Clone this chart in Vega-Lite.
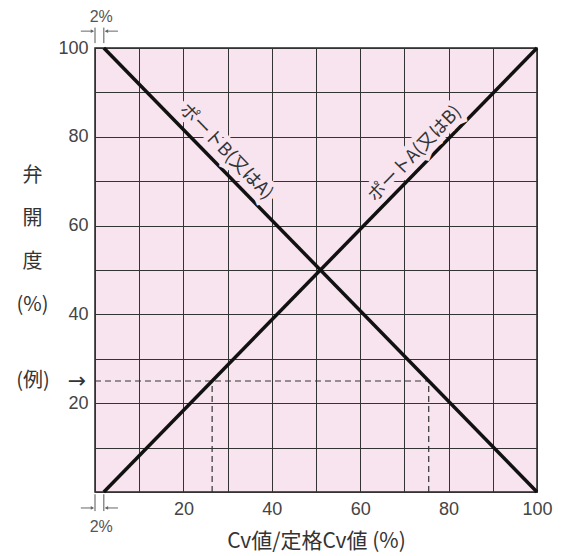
{
  "$schema": "https://vega.github.io/schema/vega-lite/v6.json",
  "width": 442,
  "height": 444,
  "autosize": {"type": "none"},
  "padding": {"left": 95, "top": 48, "right": 26, "bottom": 64},
  "background": "white",
  "config": {
    "view": {"fill": "#f8e4ee", "stroke": "#222222", "strokeWidth": 1.5},
    "font": "Noto Sans CJK JP"
  },
  "datasets": {
    "lines": [
      {"port": "A", "x": 2, "y": 0},
      {"port": "A", "x": 100, "y": 100},
      {"port": "B", "x": 2, "y": 100},
      {"port": "B", "x": 100, "y": 0}
    ],
    "dashed": [
      {"x": 0, "y": 25, "x2": 75.5, "y2": 25},
      {"x": 26.5, "y": 0, "x2": 26.5, "y2": 25},
      {"x": 75.5, "y": 0, "x2": 75.5, "y2": 25}
    ],
    "labelB": [{"label": "ポートB(又はA)", "x": 29.6, "y": 76.6}],
    "labelA": [{"label": "ポートA(又はB)", "x": 72.4, "y": 76.1}],
    "pct": [
      {"label": "2%", "x": 1.4, "y": 107.0},
      {"label": "2%", "x": 1.4, "y": -7.8}
    ],
    "arrowShaftR": [
      {"x": -3.2, "x2": -0.4, "y": 103.8, "y2": 103.8},
      {"x": -3.2, "x2": -0.4, "y": -3.6, "y2": -3.6}
    ],
    "arrowShaftL": [
      {"x": 2.4, "x2": 5.2, "y": 103.8, "y2": 103.8},
      {"x": 2.4, "x2": 5.2, "y": -3.6, "y2": -3.6}
    ],
    "arrowHeadR": [
      {"x": -0.6, "y": 103.8},
      {"x": -0.6, "y": -3.6}
    ],
    "arrowHeadL": [
      {"x": 2.6, "y": 103.8},
      {"x": 2.6, "y": -3.6}
    ],
    "ticks": [
      {"x": 0, "y": 101.1, "y2": 104.6},
      {"x": 2, "y": 101.1, "y2": 104.6},
      {"x": 0, "y": -0.5, "y2": -4.3},
      {"x": 2, "y": -0.5, "y2": -4.3}
    ],
    "rei": [{"label": "(例)", "x": -14, "y": 25}],
    "reiArrow": [{"label": "→", "x": -2, "y": 25}]
  },
  "encoding": {
    "x": {
      "field": "x",
      "type": "quantitative",
      "scale": {"domain": [0, 100], "nice": false, "zero": false},
      "axis": {
        "values": [0, 10, 20, 30, 40, 50, 60, 70, 80, 90, 100],
        "labelExpr": "datum.value % 20 == 0 && datum.value > 0 ? datum.label : ''",
        "grid": true,
        "gridColor": "#333333",
        "gridWidth": 1,
        "domain": false,
        "ticks": false,
        "labelFont": "Liberation Sans",
        "labelFontSize": 18,
        "labelColor": "#444444",
        "labelPadding": 8,
        "labelFlush": false,
        "title": "Cv値/定格Cv値 (%)",
        "titleFont": "Noto Sans CJK JP",
        "titleFontSize": 21,
        "titleFontWeight": "normal",
        "titleColor": "#333333",
        "titleBaseline": "middle",
        "titleY": 49
      }
    },
    "y": {
      "field": "y",
      "type": "quantitative",
      "scale": {"domain": [0, 100], "nice": false, "zero": false},
      "axis": {
        "values": [0, 10, 20, 30, 40, 50, 60, 70, 80, 90, 100],
        "labelExpr": "datum.value % 20 == 0 && datum.value > 0 ? datum.label : ''",
        "grid": true,
        "gridColor": "#333333",
        "gridWidth": 1,
        "domain": false,
        "ticks": false,
        "labelFont": "Liberation Sans",
        "labelFontSize": 18,
        "labelColor": "#444444",
        "labelPadding": 7,
        "labelFlush": false,
        "title": ["弁", "開", "度", "(%)"],
        "titleFont": "Noto Sans CJK JP",
        "titleFontSize": 20,
        "titleFontWeight": "normal",
        "titleColor": "#333333",
        "titleAngle": 0,
        "titleAlign": "center",
        "titleBaseline": "top",
        "titleX": -63,
        "titleY": 117,
        "titleLineHeight": 43
      }
    }
  },
  "layer": [
    {
      "data": {"name": "dashed"},
      "mark": {"type": "rule", "color": "#333333", "strokeWidth": 1.2, "strokeDash": [6, 4]},
      "encoding": {"x2": {"field": "x2"}, "y2": {"field": "y2"}}
    },
    {
      "data": {"name": "lines"},
      "mark": {"type": "line", "color": "#111111", "strokeWidth": 3.5},
      "encoding": {"detail": {"field": "port"}}
    },
    {
      "data": {"name": "labelB"},
      "mark": {"type": "text", "angle": 46, "fontSize": 18, "stroke": "#f8e4ee", "strokeWidth": 10, "fill": "#f8e4ee", "align": "center", "baseline": "middle"},
      "encoding": {"text": {"field": "label"}}
    },
    {
      "data": {"name": "labelB"},
      "mark": {"type": "text", "angle": 46, "fontSize": 18, "color": "#333333", "align": "center", "baseline": "middle"},
      "encoding": {"text": {"field": "label"}}
    },
    {
      "data": {"name": "labelA"},
      "mark": {"type": "text", "angle": -46, "fontSize": 18, "stroke": "#f8e4ee", "strokeWidth": 10, "fill": "#f8e4ee", "align": "center", "baseline": "middle"},
      "encoding": {"text": {"field": "label"}}
    },
    {
      "data": {"name": "labelA"},
      "mark": {"type": "text", "angle": -46, "fontSize": 18, "color": "#333333", "align": "center", "baseline": "middle"},
      "encoding": {"text": {"field": "label"}}
    },
    {
      "data": {"name": "pct"},
      "mark": {"type": "text", "font": "Liberation Sans", "fontSize": 16, "color": "#555555", "align": "center", "baseline": "middle"},
      "encoding": {"text": {"field": "label"}}
    },
    {
      "data": {"name": "arrowShaftR"},
      "mark": {"type": "rule", "color": "#666666", "strokeWidth": 1},
      "encoding": {"x2": {"field": "x2"}, "y2": {"field": "y2"}}
    },
    {
      "data": {"name": "arrowShaftL"},
      "mark": {"type": "rule", "color": "#666666", "strokeWidth": 1},
      "encoding": {"x2": {"field": "x2"}, "y2": {"field": "y2"}}
    },
    {
      "data": {"name": "arrowHeadR"},
      "mark": {"type": "point", "shape": "triangle-right", "filled": true, "color": "#666666", "size": 14, "opacity": 1},
      "encoding": {}
    },
    {
      "data": {"name": "arrowHeadL"},
      "mark": {"type": "point", "shape": "triangle-left", "filled": true, "color": "#666666", "size": 14, "opacity": 1},
      "encoding": {}
    },
    {
      "data": {"name": "ticks"},
      "mark": {"type": "rule", "color": "#555555", "strokeWidth": 1},
      "encoding": {"y2": {"field": "y2"}}
    },
    {
      "data": {"name": "rei"},
      "mark": {"type": "text", "fontSize": 20, "color": "#333333", "align": "center", "baseline": "middle"},
      "encoding": {"text": {"field": "label"}}
    },
    {
      "data": {"name": "reiArrow"},
      "mark": {"type": "text", "font": "DejaVu Sans", "fontSize": 22, "color": "#333333", "align": "right", "baseline": "middle"},
      "encoding": {"text": {"field": "label"}}
    }
  ]
}
